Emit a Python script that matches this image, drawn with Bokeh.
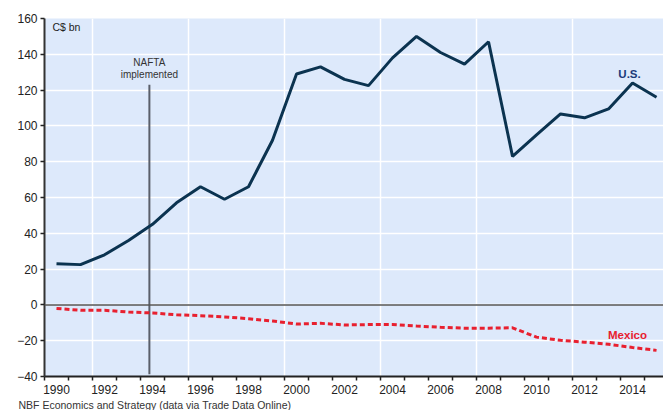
from bokeh.plotting import figure
from bokeh.models import FixedTicker, Span, Label, ColumnDataSource, Title
from bokeh.embed import file_html
from bokeh.resources import INLINE

years = list(range(1990, 2016))
us = [23, 22.5, 28, 36, 45, 57, 66, 59, 66, 92, 129, 133, 126, 122.5, 138, 150,
      141, 134.5, 147, 83, 95, 106.7, 104.5, 109.5, 124, 116]
mexico = [-2, -3, -3, -4, -4.5, -5.5, -6, -6.7, -7.7, -9, -10.7, -10.3, -11.2, -11,
          -11, -11.8, -12.5, -13, -13, -12.8, -18, -19.8, -20.8, -22, -23.8, -25.4]
x_label_years = list(range(1990, 2015, 2))
y_ticks = list(range(-40, 161, 20))
nafta_year = 1993.87

FONT = "Liberation Sans"

src = ColumnDataSource(data=dict(year=years, us=us, mexico=mexico))

p = figure(width=663, height=410, x_range=(1989.5, 2015.29), y_range=(-40, 160),
           output_backend="svg", toolbar_location=None,
           min_border_left=44, min_border_top=18, min_border_right=0, min_border_bottom=0)
p.background_fill_color = "#dde9fb"
p.border_fill_color = "white"
p.outline_line_color = None

# grids
p.xgrid.ticker = FixedTicker(ticks=[1991.5, 1995.5, 1999.5, 2003.5, 2007.5, 2011.5])
p.xgrid.grid_line_color = "white"
p.xgrid.grid_line_width = 1.5
p.ygrid.ticker = FixedTicker(ticks=y_ticks)
p.ygrid.grid_line_color = "white"
p.ygrid.grid_line_width = 1.5

# x axis
p.xaxis.ticker = FixedTicker(ticks=x_label_years, minor_ticks=[y - 0.5 for y in years] + [2015.5])
p.xaxis.major_tick_out = 0
p.xaxis.major_tick_in = 0
p.xaxis.minor_tick_out = 4
p.xaxis.minor_tick_in = 0
p.xaxis.minor_tick_line_color = "#222222"
p.xaxis.minor_tick_line_width = 1.5
p.xaxis.axis_line_color = "#222222"
p.xaxis.axis_line_width = 2
p.xaxis.major_label_standoff = 4
p.xaxis.major_label_text_font = FONT
p.xaxis.major_label_text_font_size = "12px"
p.xaxis.major_label_text_color = "#222222"

# y axis
p.yaxis.ticker = FixedTicker(ticks=y_ticks)
p.yaxis.major_tick_out = 4
p.yaxis.major_tick_in = 0
p.yaxis.minor_tick_out = 0
p.yaxis.minor_tick_in = 0
p.yaxis.major_tick_line_color = "#222222"
p.yaxis.major_tick_line_width = 1.5
p.yaxis.axis_line_color = "#333333"
p.yaxis.axis_line_width = 2
p.yaxis.major_label_standoff = 3
p.yaxis.major_label_text_font = FONT
p.yaxis.major_label_text_font_size = "12px"
p.yaxis.major_label_text_color = "#222222"

# zero line
p.add_layout(Span(location=0, dimension="width", line_color="#555555", line_width=1.5))

# NAFTA line
p.segment(x0=[nafta_year], y0=[-38.7], x1=[nafta_year], y1=[123], line_color="#5a5f6a", line_width=2)

# series
p.line("year", "us", source=src, line_color="#0b3350", line_width=3)
p.line("year", "mexico", source=src, line_color="#e8202f", line_width=3, line_dash="5 3")

def lab(x, y, t, size, color, bold=False, align="center"):
    p.add_layout(Label(x=x, y=y, text=t, text_font=FONT, text_font_size=size,
                       text_color=color, text_align=align, text_baseline="middle",
                       text_font_style="bold" if bold else "normal"))

lab(nafta_year, 135.3, "NAFTA", "10px", "#333333")
lab(nafta_year, 128.6, "implemented", "10px", "#333333")
lab(1989.83, 155.5, "C$ bn", "10.5px", "#222222", align="left")
lab(2013.875, 129, "U.S.", "11.5px", "#1a3a7a", bold=True)
lab(2013.79, -17, "Mexico", "11.5px", "#e8202f", bold=True)

p.add_layout(Title(text="NBF Economics and Strategy (data via Trade Data Online)",
                   align="left", offset=-26, standoff=0, text_font=FONT,
                   text_font_size="10.5px", text_font_style="normal",
                   text_color="#333333"), "below")

open("out.html", "w").write(file_html(p, INLINE))
